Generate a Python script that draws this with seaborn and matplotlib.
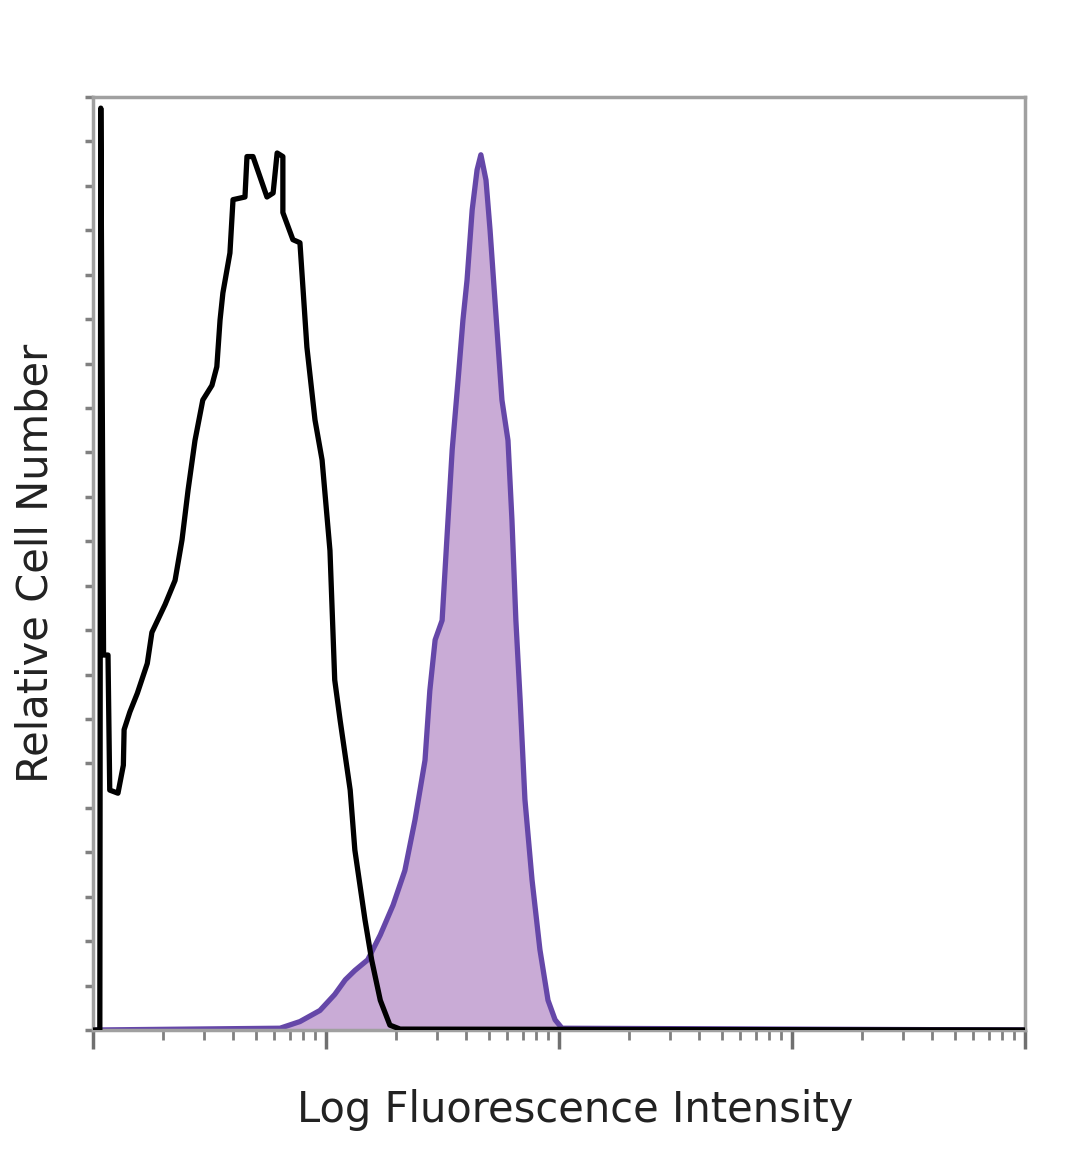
import matplotlib
matplotlib.use("Agg")
import matplotlib.pyplot as plt
import seaborn as sns
import numpy as np
import pandas as pd
from matplotlib.ticker import LogLocator, MultipleLocator, NullFormatter

# Control (unstained) histogram: fluorescence intensity vs cell count
control_x = [1.00, 1.07, 1.08, 1.11, 1.16, 1.18, 1.28, 1.35, 1.36, 1.44, 1.55, 1.71, 1.79,
             2.04, 2.25, 2.41, 2.56, 2.74, 2.96, 3.24, 3.40, 3.51, 3.61, 3.87, 3.99, 4.49,
             4.58, 4.86, 5.58, 5.93, 6.17, 6.53, 6.53, 7.21, 7.73, 7.96, 8.28, 8.97, 9.62,
             10.4, 10.9, 11.5, 12.7, 13.3, 14.7, 15.7, 17.1, 18.8, 20.8, 10000]
control_y = [0, 0, 207.5, 84.4, 84.4, 54.0, 53.3, 59.6, 67.6, 71.6, 75.8, 82.5, 89.5,
             95.8, 101.2, 110.3, 121.6, 132.7, 141.8, 145.1, 149.3, 159.8, 165.9, 174.9, 186.9, 187.5,
             196.6, 196.6, 187.5, 188.4, 197.4, 196.6, 184.0, 177.9, 177.2, 167.2, 153.7, 137.3, 128.3,
             107.9, 78.8, 69.7, 54.0, 40.5, 24.8, 15.8, 6.7, 1.1, 0.2, 0]

# Stained sample histogram
stained_x = [1.00, 6.35, 7.73, 9.42, 10.9, 12.1, 13.3, 15.1, 17.1, 19.4, 21.8, 24.1, 26.6,
             27.9, 29.4, 31.5, 33.0, 34.8, 36.9, 38.7, 40.3, 42.4, 44.5, 46.2, 48.6, 50.6,
             53.1, 56.9, 60.4, 62.8, 65.3, 68.1, 71.4, 76.6, 82.8, 89.7, 96.2, 103, 10000]
stained_y = [0, 0.4, 1.9, 4.4, 8.0, 11.3, 13.4, 15.8, 21.4, 28.1, 35.9, 47.3, 60.7,
             76.4, 87.8, 92.2, 110.3, 130.6, 146.4, 159.8, 168.8, 184.6, 193.6, 197.0, 191.3, 180.0,
             164.2, 141.8, 132.7, 114.9, 92.2, 74.3, 51.9, 33.8, 18.1, 6.7, 2.3, 0.4, 0]

x_label = "Log Fluorescence Intensity"
y_label = "Relative Cell Number"

sns.set_style("white")
plt.rcParams['font.family'] = ['DejaVu Sans']

fig = plt.figure(figsize=(10.8, 11.69), dpi=100)
ax = fig.add_axes([0.0861, 0.1189, 0.8630, 0.7981])

fill_col = "#c9abd6"
line_col = "#6547a8"

ax.fill_between(stained_x, stained_y, 0, color=fill_col, linewidth=0, zorder=1)
sns.lineplot(x=stained_x, y=stained_y, sort=False, estimator=None, color=line_col,
             linewidth=3.8, ax=ax, zorder=2)
sns.lineplot(x=control_x, y=control_y, sort=False, estimator=None, color="black",
             linewidth=3.8, ax=ax, zorder=3)

ax.set_xscale("log")
ax.set_xlim(1, 10000)
ax.set_ylim(0, 210)

ax.xaxis.set_major_locator(LogLocator(base=10, numticks=10))
ax.xaxis.set_minor_locator(LogLocator(base=10, subs=np.arange(2, 10), numticks=20))
ax.xaxis.set_major_formatter(NullFormatter())
ax.xaxis.set_minor_formatter(NullFormatter())
ax.yaxis.set_major_locator(MultipleLocator(10))
ax.yaxis.set_major_formatter(NullFormatter())

ax.tick_params(axis="x", which="major", direction="out", length=14, width=2.5,
               color="#707070", bottom=True)
ax.tick_params(axis="x", which="minor", direction="out", length=7, width=2,
               color="#808080", bottom=True)
ax.tick_params(axis="y", which="major", direction="out", length=6, width=2.5,
               color="#808080", left=True)

for s in ax.spines.values():
    s.set_color("#a0a0a0")
    s.set_linewidth(2.5)
    s.set_visible(True)

ax.set_xlabel(x_label, fontsize=30, color="#222222", va="center")
ax.set_ylabel(y_label, fontsize=30, color="#222222", va="center")
ax.xaxis.set_label_coords(0.517, -0.0857)
ax.yaxis.set_label_coords(-0.0622, 0.5)

fig.savefig("out.png", dpi=100, facecolor="white")
